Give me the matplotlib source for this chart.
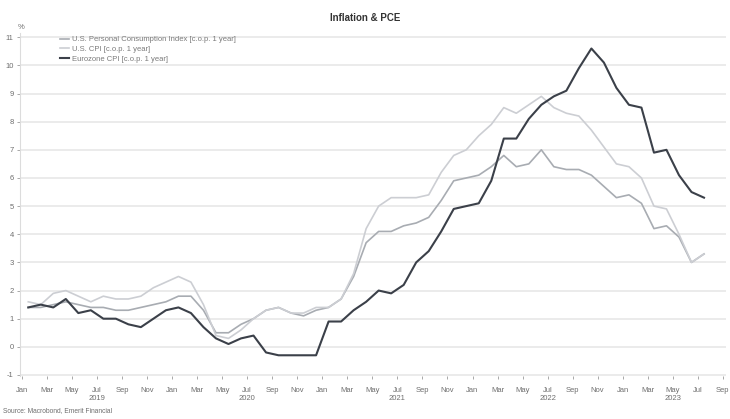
import numpy as np
import matplotlib
matplotlib.use("Agg")
import matplotlib.pyplot as plt

plt.rcParams['font.family'] = ['Liberation Sans', 'DejaVu Sans']

# monthly year-over-year change, Jan 2019 .. Jul 2023
pce = [1.4, 1.4, 1.5, 1.6, 1.5, 1.4, 1.4, 1.3, 1.3, 1.4, 1.5, 1.6,
       1.8, 1.8, 1.3, 0.5, 0.5, 0.8, 1.0, 1.3, 1.4, 1.2, 1.1, 1.3,
       1.4, 1.7, 2.5, 3.7, 4.1, 4.1, 4.3, 4.4, 4.6, 5.2, 5.9, 6.0,
       6.1, 6.4, 6.8, 6.4, 6.5, 7.0, 6.4, 6.3, 6.3, 6.1, 5.7, 5.3,
       5.4, 5.1, 4.2, 4.3, 3.9, 3.0, 3.3]
us_cpi = [1.6, 1.5, 1.9, 2.0, 1.8, 1.6, 1.8, 1.7, 1.7, 1.8, 2.1, 2.3,
          2.5, 2.3, 1.5, 0.4, 0.3, 0.6, 1.0, 1.3, 1.4, 1.2, 1.2, 1.4,
          1.4, 1.7, 2.6, 4.2, 5.0, 5.3, 5.3, 5.3, 5.4, 6.2, 6.8, 7.0,
          7.5, 7.9, 8.5, 8.3, 8.6, 8.9, 8.5, 8.3, 8.2, 7.7, 7.1, 6.5,
          6.4, 6.0, 5.0, 4.9, 4.0, 3.0, 3.3]
ez_cpi = [1.4, 1.5, 1.4, 1.7, 1.2, 1.3, 1.0, 1.0, 0.8, 0.7, 1.0, 1.3,
          1.4, 1.2, 0.7, 0.3, 0.1, 0.3, 0.4, -0.2, -0.3, -0.3, -0.3, -0.3,
          0.9, 0.9, 1.3, 1.6, 2.0, 1.9, 2.2, 3.0, 3.4, 4.1, 4.9, 5.0,
          5.1, 5.9, 7.4, 7.4, 8.1, 8.6, 8.9, 9.1, 9.9, 10.6, 10.1, 9.2,
          8.6, 8.5, 6.9, 7.0, 6.1, 5.5, 5.3]

month_names = ['Jan', 'Mar', 'May', 'Jul', 'Sep', 'Nov']
years = ['2019', '2020', '2021', '2022', '2023']
labels = ['U.S. Personal Consumption Index [c.o.p. 1 year]',
          'U.S. CPI [c.o.p. 1 year]',
          'Eurozone CPI [c.o.p. 1 year]']

fig = plt.figure(figsize=(7.3, 4.19), dpi=100)
ax = fig.add_axes([0.0274, 0.1017, 0.967, 0.8195])

x = np.arange(len(pce)) + 0.5
ax.plot(x, pce, color='#a8acb2', lw=1.2, label=labels[0], zorder=3)
ax.plot(x, us_cpi, color='#ccced3', lw=1.2, label=labels[1], zorder=3)
ax.plot(x, ez_cpi, color='#3b4049', lw=1.5, label=labels[2], zorder=4)

ax.set_xlim(-0.16, 56.25)
ax.set_ylim(-1.05, 11.15)
ax.set_yticks(range(-1, 12))
ax.set_yticklabels([str(v) for v in range(-1, 12)])
ticks = np.arange(0, 57, 2)
ax.set_xticks(ticks)
ax.set_xticklabels([month_names[(t % 12) // 2] for t in ticks])

ax.grid(axis='y', color='#ebebeb', lw=1.4, zorder=0)
for s in ['top', 'right', 'bottom']:
    ax.spines[s].set_visible(False)
ax.spines['left'].set_color('#dcdcdc')
ax.tick_params(axis='both', labelsize=5.5, colors='#9a9a9a', length=2.5, width=0.6)
ax.tick_params(axis='y', pad=2)
ax.tick_params(axis='x', pad=5)
for lbl in ax.get_xticklabels() + ax.get_yticklabels():
    lbl.set_color('#6e6e6e')

# year labels centred under the visible part of each year
for i, yr in enumerate(years):
    start = i * 12
    end = min(start + 12, 56)
    ax.text((start + end) / 2, -0.064, yr, transform=ax.get_xaxis_transform(),
            ha='center', va='center', fontsize=5.5, color='#6e6e6e')

leg = ax.legend(loc='upper left', bbox_to_anchor=(0.05, 1.005), frameon=False,
                fontsize=5.5, handlelength=1.2, handletextpad=0.4,
                labelspacing=0.3, borderaxespad=0.2)
for t in leg.get_texts():
    t.set_color('#7a7a7a')

fig.text(0.5, 0.958, 'Inflation & PCE', ha='center', va='center',
         fontsize=7, fontweight='bold', color='#333333')
fig.text(0.024, 0.934, '%', ha='left', va='center', fontsize=5.5, color='#6e6e6e')
fig.text(0.004, 0.02, 'Source: Macrobond, Emerit Financial', ha='left', va='center',
         fontsize=4.8, color='#6e6e6e')

fig.savefig('out.png', dpi=100)
